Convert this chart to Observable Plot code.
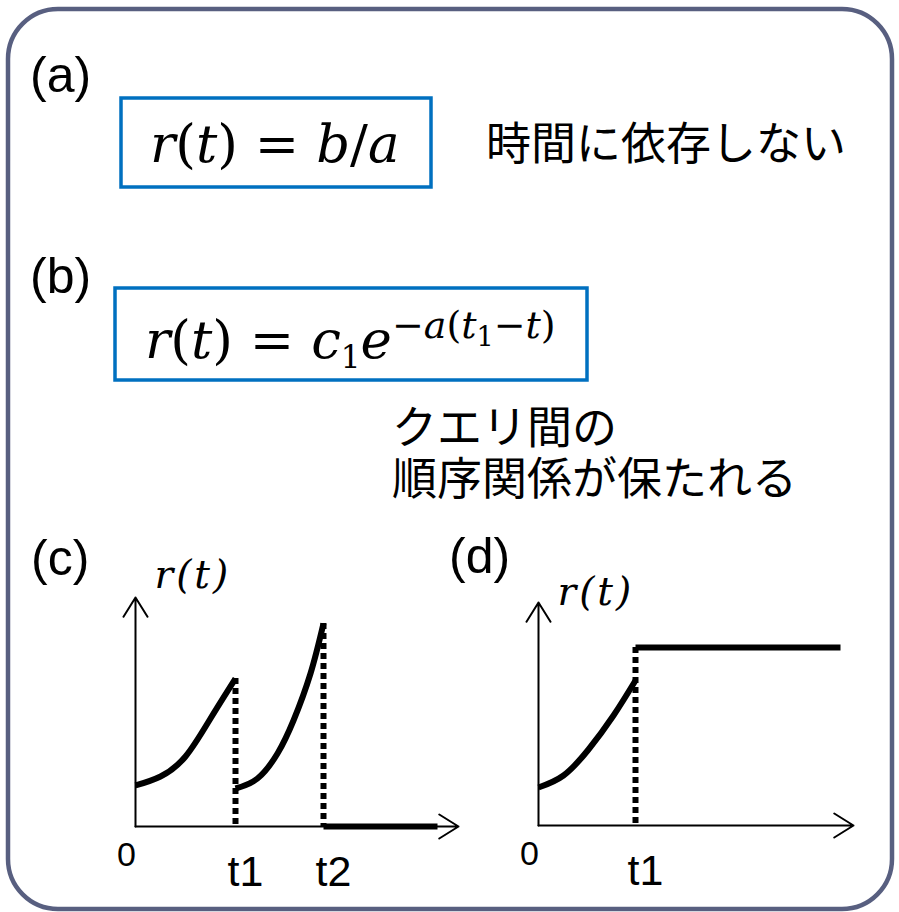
<!DOCTYPE html>
<html>
<head>
<meta charset="utf-8">
<script src="https://cdn.jsdelivr.net/npm/d3@7"></script>
<script src="https://cdn.jsdelivr.net/npm/@observablehq/plot@0.6"></script>
<style>
  body { margin: 0; background: #fff; }
  #page { position: relative; width: 899px; height: 912px; overflow: hidden; background: #fff; }
  #page > .chart { position: absolute; }
  #overlay { position: absolute; left: 0; top: 0; pointer-events: none; }
  .chart g[font-style="italic"] text { letter-spacing: 3px; }
  .note { position: absolute; font-family: "Noto Sans CJK JP", sans-serif; font-size: 45px; line-height: 51px; white-space: pre-line; color: #000; margin: 0; }
</style>
</head>
<body>
<div id="page"></div>
<script>
// ---- content ----
const panelLabels = ["(a)", "(b)", "(c)", "(d)"];
const noteA = "時間に依存しない";
const noteB = ["クエリ間の", "順序関係が保たれる"];
const axisLabel = "r(t)";

// (c): score grows until each query time, resets at t1, and falls to 0 after t2
const tickLabelsC = ["0", "t1", "t2"];
const tickTimesC = [0, 1.0, 1.88];
const cRiseToT1 = [[0, 0.41], [0.25, 0.5], [0.5, 0.7], [0.75, 1.08], [1.0, 1.48]];
const cRiseToT2 = [[1.0, 0.38], [1.22, 0.48], [1.42, 0.73], [1.58, 1.06], [1.75, 1.53], [1.88, 2.03]];
const cAfterT2 = [[1.88, 0], [3.02, 0]];
const cExtent = [3.23, 2.29];

// (d): score grows until t1, then stays at a fixed level
const tickLabelsD = ["0", "t1"];
const tickTimesD = [0, 0.97];
const dRiseToT1 = [[0, 0.38], [0.25, 0.5], [0.5, 0.76], [0.75, 1.1], [0.97, 1.45]];
const dAfterT1 = [[0.97, 1.78], [3.02, 1.78]];
const dExtent = [3.15, 2.23];

// ---- small time-course charts ----
function timeCourse({rises, after, drops, extent, labels, times, labelDy, width, height, margins}) {
  const [xMax, yMax] = extent;
  const axes = [{x1: 0, y1: 0, x2: xMax, y2: 0}, {x1: 0, y1: 0, x2: 0, y2: yMax}];
  const curve = rises.flatMap((seg, k) => seg.map(([t, r]) => ({t, r, k})));
  const hold = after.map(([t, r]) => ({t, r}));
  const dropRows = drops.map(([t, r]) => ({t, r}));
  const ticks = labels.map((label, i) => ({label, t: times[i]}));
  const sans = "Liberation Sans, Arial, sans-serif";
  return Plot.plot({
    width, height, ...margins,
    x: {domain: [0, xMax], axis: null},
    y: {domain: [0, yMax], axis: null},
    style: {background: "transparent", overflow: "visible"},
    marks: [
      Plot.arrow(axes, {x1: "x1", y1: "y1", x2: "x2", y2: "y2", stroke: "#000", strokeWidth: 2, headLength: 17, headAngle: 64}),
      Plot.ruleX(dropRows, {x: "t", y1: "r", y2: 0, stroke: "#000", strokeWidth: 6, strokeDasharray: "6,4"}),
      Plot.line(curve, {x: "t", y: "r", z: "k", curve: "natural", stroke: "#000", strokeWidth: 6, strokeLinecap: "butt"}),
      Plot.line(hold, {x: "t", y: "r", stroke: "#000", strokeWidth: 6, strokeLinecap: "butt"}),
      Plot.text(ticks.filter((d) => d.t === 0), {x: "t", y: 0, text: "label", dx: -9, dy: 39, lineAnchor: "bottom", fontSize: 34, fontFamily: sans, fill: "#000"}),
      Plot.text(ticks.filter((d) => d.t !== 0), {x: "t", y: 0, text: "label", dx: 10, dy: 59, lineAnchor: "bottom", fontSize: 43, fontFamily: sans, fill: "#000"}),
      Plot.text([axisLabel], {x: 0, y: yMax, text: (d) => d, dx: 19, dy: labelDy, textAnchor: "start", lineAnchor: "bottom", fontSize: 39, fontFamily: "DejaVu Serif, serif", fontStyle: "italic", fill: "#000"})
    ]
  });
}

const page = document.getElementById("page");

const chartC = timeCourse({
  rises: [cRiseToT1, cRiseToT2], after: cAfterT2,
  drops: [cRiseToT1[cRiseToT1.length - 1], cRiseToT2[cRiseToT2.length - 1]],
  extent: cExtent, labels: tickLabelsC, times: tickTimesC, labelDy: -10,
  width: 380, height: 360, margins: {marginLeft: 35, marginRight: 22, marginTop: 57, marginBottom: 74}
});
chartC.classList.add("chart");
chartC.style.left = "100px"; chartC.style.top = "540px";
page.appendChild(chartC);

const chartD = timeCourse({
  rises: [dRiseToT1], after: dAfterT1,
  drops: [dAfterT1[0]],
  extent: dExtent, labels: tickLabelsD, times: tickTimesD, labelDy: 2,
  width: 400, height: 360, margins: {marginLeft: 58, marginRight: 27, marginTop: 62, marginBottom: 75}
});
chartD.classList.add("chart");
chartD.style.left = "480px"; chartD.style.top = "540px";
page.appendChild(chartD);

// ---- frame, panel tags, formulas and notes ----
const svg = d3.select(page).append("svg")
  .attr("id", "overlay").attr("width", 899).attr("height", 912);

svg.append("rect").attr("x", 8).attr("y", 9).attr("width", 884).attr("height", 900).attr("rx", 50)
  .attr("fill", "none").attr("stroke", "#585f80").attr("stroke-width", 4.5);

const tagPos = [[30, 92], [30, 293], [31, 575], [449, 573]];
panelLabels.forEach((s, i) => {
  svg.append("text").attr("x", tagPos[i][0]).attr("y", tagPos[i][1])
    .attr("font-family", "Liberation Sans, Arial, sans-serif").attr("font-size", 50).text(s);
});

svg.append("rect").attr("x", 121).attr("y", 98).attr("width", 310).attr("height", 89)
  .attr("fill", "none").attr("stroke", "#0070c0").attr("stroke-width", 3.5);
svg.append("rect").attr("x", 115).attr("y", 288).attr("width", 472).attr("height", 92)
  .attr("fill", "none").attr("stroke", "#0070c0").attr("stroke-width", 3.5);

function mathText(x, y, size, parts) {
  const t = svg.append("text").attr("x", x).attr("y", y)
    .attr("font-family", "DejaVu Serif, serif").attr("font-size", size).style("white-space", "pre");
  for (const p of parts) {
    const s = t.append("tspan").text(p.s);
    if (p.i) s.attr("font-style", "italic");
    if (p.size) s.attr("font-size", p.size);
    if (p.dy) s.attr("dy", p.dy);
  }
  return t;
}

mathText(150, 162, 53, [
  {s: "r", i: 1}, {s: "("}, {s: "t", i: 1}, {s: ") = "}, {s: "b", i: 1}, {s: "/"}, {s: "a", i: 1}
]);

mathText(145, 358, 53, [
  {s: "r", i: 1}, {s: "("}, {s: "t", i: 1}, {s: ") = "}, {s: "c", i: 1},
  {s: "1", size: 31, dy: 10}, {s: "e", i: 1, size: 53, dy: -10},
  {s: "−", size: 38, dy: -20}, {s: "a", i: 1, size: 38}, {s: "(", size: 38}, {s: "t", i: 1, size: 38},
  {s: "1", size: 27, dy: 8}, {s: "−", size: 38, dy: -8}, {s: "t", i: 1, size: 38}, {s: ")", size: 38}
]);

svg.append("text").attr("x", 486).attr("y", 160)
  .attr("font-family", "Noto Sans CJK JP, sans-serif").attr("font-size", 45).text(noteA);

// two-line note under formula (b)
const note = document.createElement("div");
note.className = "note";
note.style.left = "392px";
note.style.top = "399px";
note.textContent = noteB.join("\n");
page.appendChild(note);
</script>
</body>
</html>
